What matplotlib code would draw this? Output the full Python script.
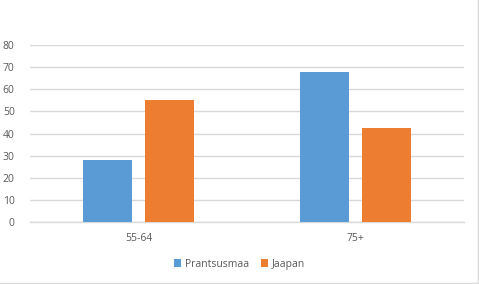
import matplotlib.pyplot as plt
import numpy as np

plt.rcParams['font.family'] = ['Open Sans', 'DejaVu Sans']

# Data
categories = ["55-64", "75+"]
series_names = ["Prantsusmaa", "Jaapan"]
prantsusmaa = [28, 68]
jaapan = [55, 42.5]
yticks = [0, 10, 20, 30, 40, 50, 60, 70, 80]

text_color = '#595959'
grid_color = '#D9D9D9'
colors = ['#5B9BD5', '#ED7D31']

fig = plt.figure(figsize=(4.79, 2.84), dpi=100)
ax = fig.add_axes([0.0626, 0.218, 0.9061, 0.6235])

x = np.arange(len(categories))
w = 0.225
off = 0.1425
ax.bar(x - off, prantsusmaa, width=w, color=colors[0], label=series_names[0], zorder=3)
ax.bar(x + off, jaapan, width=w, color=colors[1], label=series_names[1], zorder=3)

ax.set_xlim(-0.5, len(categories) - 0.5)
ax.set_ylim(0, 80)
ax.set_yticks(yticks)
ax.set_xticks(x)
ax.set_xticklabels(categories)
ax.yaxis.grid(True, color=grid_color, linewidth=1)
ax.set_axisbelow(True)
ax.tick_params(axis='both', length=0, labelsize=7.5, colors=text_color)
ax.tick_params(axis='x', pad=8)
ax.tick_params(axis='y', pad=11)
for s in ['top', 'right', 'left']:
    ax.spines[s].set_visible(False)
ax.spines['bottom'].set_color(grid_color)
ax.spines['bottom'].set_linewidth(1)

# Horizontal legend below
fig.legend(loc='center', bbox_to_anchor=(0.5, 0.07), ncol=2, frameon=False,
           fontsize=7.5, labelcolor=text_color, handlelength=0.7, handleheight=0.7,
           handletextpad=0.3, columnspacing=1.2)

# light chart border (right and bottom visible)
fig.add_artist(plt.Line2D([0.998, 0.998], [0.0, 1.0], color=grid_color, linewidth=1))
fig.add_artist(plt.Line2D([0.0, 1.0], [0.002, 0.002], color=grid_color, linewidth=1))

fig.savefig('out.png', dpi=100)
